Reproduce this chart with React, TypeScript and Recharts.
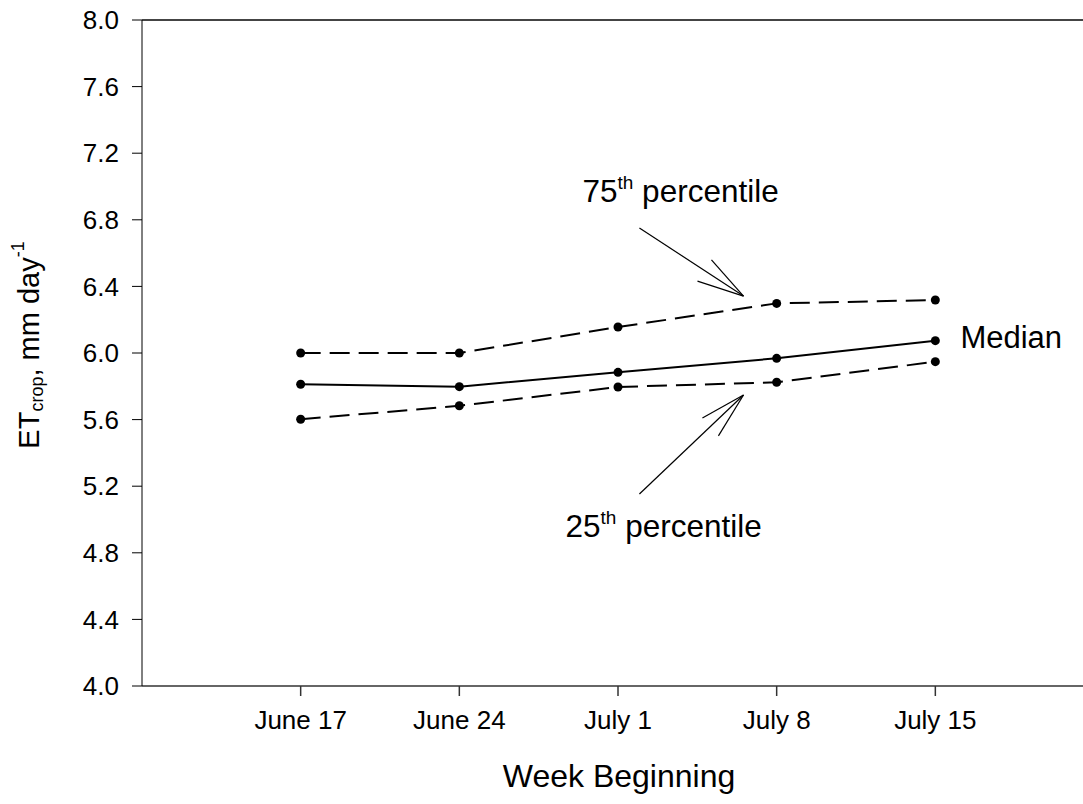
import React from "react";
import {
  LineChart,
  Line,
  XAxis,
  YAxis,
  ReferenceLine,
  ReferenceDot,
} from "recharts";

const weeks = ["June 17", "June 24", "July 1", "July 8", "July 15"];
const p75 = [6.0, 6.0, 6.156, 6.298, 6.318];
const median = [5.812, 5.798, 5.884, 5.968, 6.074];
const p25 = [5.602, 5.683, 5.796, 5.824, 5.948];
const yTicks = [4.0, 4.4, 4.8, 5.2, 5.6, 6.0, 6.4, 6.8, 7.2, 7.6, 8.0];
const xTicks = [1, 2, 3, 4, 5];

const FONT = "'Liberation Sans', Arial, sans-serif";

const data = weeks.map((week, i) => ({
  x: i + 1,
  week,
  p75: p75[i],
  median: median[i],
  p25: p25[i],
}));

// annotation arrows, in data units
const arrow75 = {
  tail: { x: 3.135, y: 6.751 },
  head: { x: 3.791, y: 6.342 },
  barbs: [
    { x: 3.589, y: 6.559 },
    { x: 3.501, y: 6.432 },
  ],
};
const arrow25 = {
  tail: { x: 3.135, y: 5.153 },
  head: { x: 3.791, y: 5.748 },
  barbs: [
    { x: 3.532, y: 5.61 },
    { x: 3.633, y: 5.502 },
  ],
};

const dot = { r: 4.5, fill: "#000", stroke: "#000", strokeWidth: 0 };

function seg(a: { x: number; y: number }, b: { x: number; y: number }, key: string) {
  return (
    <ReferenceLine
      key={key}
      segment={[a, b]}
      stroke="#000"
      strokeWidth={1.2}
      ifOverflow="visible"
    />
  );
}

function Arrow(a: typeof arrow75, id: string) {
  return [
    seg(a.tail, a.head, id + "-shaft"),
    seg(a.barbs[0], a.head, id + "-b1"),
    seg(a.barbs[1], a.head, id + "-b2"),
  ];
}

function pctText(num: string) {
  return (props: any) => (
    <text
      x={props.cx}
      y={props.cy}
      fontFamily={FONT}
      fontSize={31.5}
      fill="#000"
      textAnchor="start"
    >
      {num}
      <tspan fontSize={19} dy={-13}>
        th
      </tspan>
      <tspan dy={13}> percentile</tspan>
    </text>
  );
}

const YLabel = (props: any) => {
  const vb = props.viewBox || { x: 0, y: 0, width: 0, height: 0 };
  const cx = vb.x + 31;
  const cy = vb.y + vb.height / 2 - 8;
  return (
    <text
      x={cx}
      y={cy}
      transform={`rotate(-90, ${cx}, ${cy})`}
      textAnchor="middle"
      dominantBaseline="middle"
      fontFamily={FONT}
      fontSize={29}
      fill="#000"
    >
      ET
      <tspan fontSize={18} dy={7}>
        crop
      </tspan>
      <tspan dy={-7}>, mm day</tspan>
      <tspan fontSize={18} dy={-12}>
        -1
      </tspan>
    </text>
  );
};

const XLabel = (props: any) => {
  const vb = props.viewBox || { x: 0, y: 0, width: 0, height: 0 };
  return (
    <text
      x={619}
      y={vb.y + 93}
      textAnchor="middle"
      dominantBaseline="middle"
      fontFamily={FONT}
      fontSize={32}
      fill="#000"
    >
      Week Beginning
    </text>
  );
};

export default function App() {
  return (
    <div
      style={{
        position: "absolute",
        left: 0,
        top: 0,
        width: 1083,
        height: 804,
        overflow: "hidden",
        background: "#fff",
      }}
    >
      <LineChart
        width={1100}
        height={804}
        data={data}
        margin={{ top: 20, right: 6, bottom: 0, left: 0 }}
      >
        <XAxis
          dataKey="x"
          type="number"
          domain={[0, 6]}
          ticks={xTicks}
          tickFormatter={(v: number) => weeks[v - 1] ?? ""}
          height={118}
          tickSize={10}
          tickMargin={15}
          stroke="#333"
          strokeWidth={1.5}
          tick={{ fill: "#000", fontFamily: FONT, fontSize: 26 }}
          label={<XLabel />}
        />
        <YAxis
          type="number"
          domain={[4, 8]}
          ticks={yTicks}
          interval={0}
          width={142}
          tickSize={10}
          tickMargin={13}
          stroke="#000"
          tickFormatter={(v: number) => v.toFixed(1)}
          tick={{ fill: "#000", fontFamily: FONT, fontSize: 26 }}
          label={<YLabel />}
        />
        <ReferenceLine y={8} stroke="#444" strokeWidth={2} />

        <Line
          dataKey="p75"
          stroke="#000"
          strokeWidth={2}
          strokeDasharray="20 9"
          dot={dot}
          activeDot={false}
          isAnimationActive={false}
        />
        <Line
          dataKey="median"
          stroke="#000"
          strokeWidth={2}
          dot={dot}
          activeDot={false}
          isAnimationActive={false}
        />
        <Line
          dataKey="p25"
          stroke="#000"
          strokeWidth={2}
          strokeDasharray="20 9"
          dot={dot}
          activeDot={false}
          isAnimationActive={false}
        />

        {Arrow(arrow75, "a75")}
        {Arrow(arrow25, "a25")}

        <ReferenceDot x={2.776} y={6.907} r={0} ifOverflow="visible" shape={pctText("75")} />
        <ReferenceDot x={2.669} y={4.895} r={0} ifOverflow="visible" shape={pctText("25")} />
        <ReferenceDot
          x={5.158}
          y={6.078}
          r={0}
          ifOverflow="visible"
          shape={(p: any) => (
            <text
              x={p.cx}
              y={p.cy}
              dominantBaseline="middle"
              fontFamily={FONT}
              fontSize={31}
              fill="#000"
            >
              Median
            </text>
          )}
        />
      </LineChart>
    </div>
  );
}
